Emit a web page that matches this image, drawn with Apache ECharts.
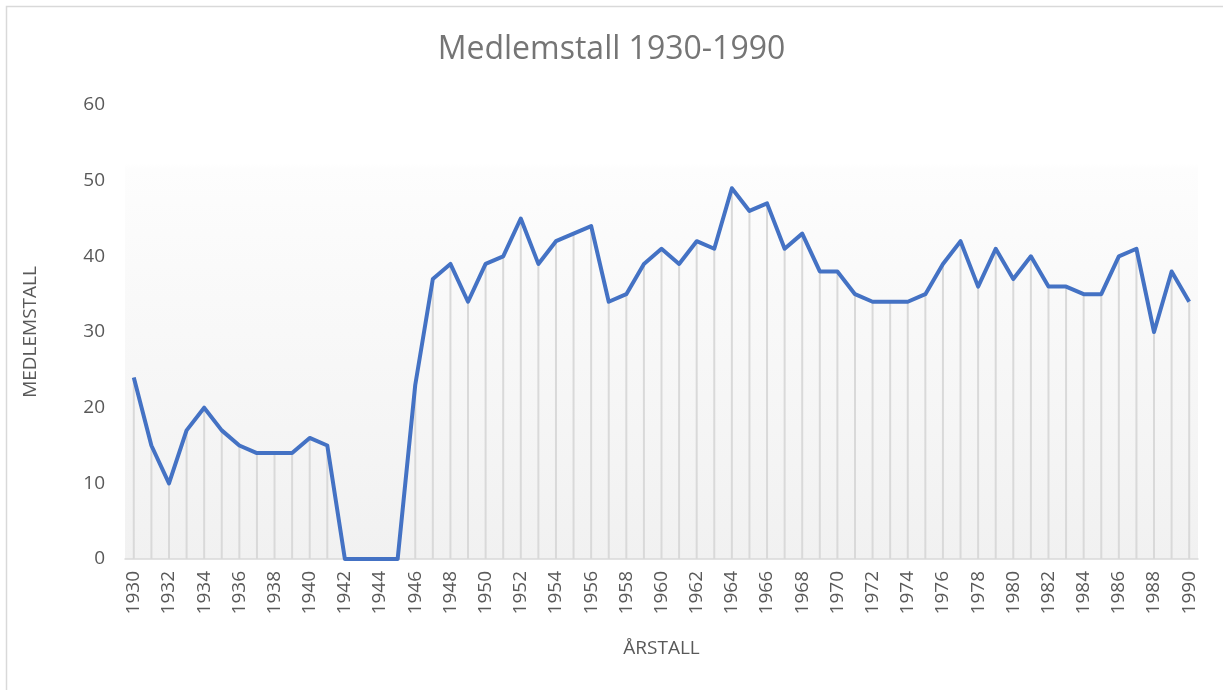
<!DOCTYPE html>
<html>
<head>
<meta charset="utf-8">
<script src="https://cdn.jsdelivr.net/npm/echarts@6/dist/echarts.min.js"></script>
<style>
html,body{margin:0;padding:0;background:#fff;}
#chart{width:1223px;height:690px;}
</style>
</head>
<body>
<div id="chart"></div>
<script>
const years = [];
for (let y = 1930; y <= 1990; y++) years.push(String(y));
const members = [24,15,10,17,20,17,15,14,14,14,16,15,0,0,0,0,23,37,39,34,39,40,45,39,42,43,44,34,35,39,41,39,42,41,49,46,47,41,43,38,38,35,34,34,34,35,39,42,36,41,37,40,36,36,35,35,40,41,30,38,34];
const yTicks = [0,10,20,30,40,50,60];
const titleText = 'Medlemstall 1930-1990';
const xName = 'ÅRSTALL';
const yName = 'MEDLEMSTALL';

const chart = echarts.init(document.getElementById('chart'));
const font = 'Open Sans';
chart.setOption({
  animation: false,
  backgroundColor: '#fff',
  title: {
    text: titleText, left: 'center', top: 29,
    textStyle: {fontFamily: font, fontSize: 32, fontWeight: 'normal', color: '#757575'}
  },
  graphic: [{
    type: 'rect', shape: {x: 6.5, y: 6.5, width: 1400, height: 900},
    style: {fill: 'none', stroke: '#d9d9d9', lineWidth: 1.5}, silent: true
  }],
  grid: {
    left: 125, right: 25, top: 105, bottom: 131,
    show: true, borderWidth: 0,
    backgroundColor: new echarts.graphic.LinearGradient(0, 0, 0, 1, [
      {offset: 0, color: '#ffffff'},
      {offset: 0.13, color: '#ffffff'},
      {offset: 0.14, color: '#fdfdfd'},
      {offset: 1, color: '#f1f1f1'}
    ])
  },
  xAxis: {
    type: 'category', data: years, boundaryGap: true,
    name: xName, nameLocation: 'middle', nameGap: 80,
    nameTextStyle: {fontFamily: font, fontSize: 19, color: '#595959'},
    axisLine: {lineStyle: {color: '#d9d9d9', width: 1.5}},
    axisTick: {show: false},
    axisLabel: {rotate: 90, interval: 1, fontFamily: font, fontSize: 19, color: '#595959', margin: 12}
  },
  yAxis: {
    type: 'value', min: yTicks[0], max: yTicks[yTicks.length - 1], interval: 10,
    name: yName, nameLocation: 'middle', nameGap: 85,
    nameTextStyle: {fontFamily: font, fontSize: 19, color: '#595959'},
    axisLine: {show: false}, axisTick: {show: false}, splitLine: {show: false},
    axisLabel: {fontFamily: font, fontSize: 19, color: '#595959', margin: 20}
  },
  series: [
    {
      type: 'bar', data: members, barWidth: 2, z: 1,
      itemStyle: {color: '#d9d9d9'}, silent: true
    },
    {
      type: 'line', data: members, z: 3, symbol: 'none',
      lineStyle: {color: '#4472c4', width: 4, join: 'round'}
    }
  ]
});
</script>
</body>
</html>
